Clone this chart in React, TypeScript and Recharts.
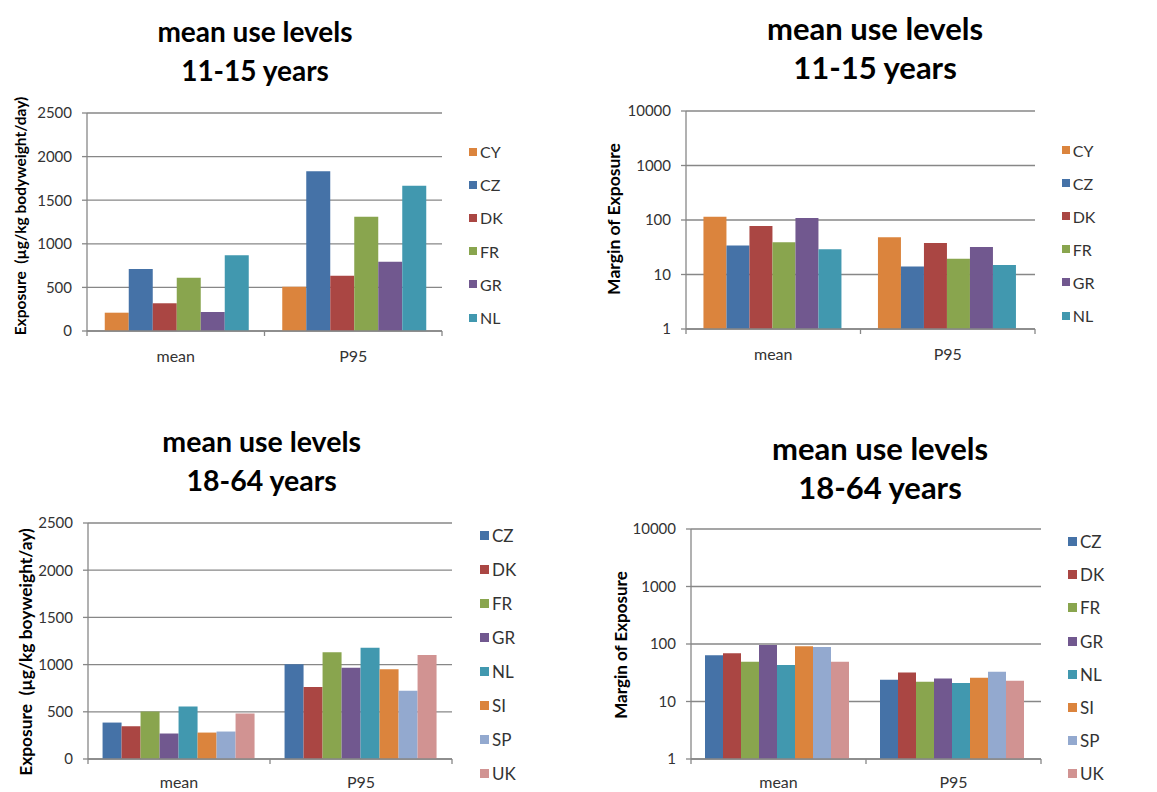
import { BarChart, Bar, XAxis, YAxis, CartesianGrid, Legend } from "recharts";

const categories = ["mean", "P95"];

const teenCountries = ["CY", "CZ", "DK", "FR", "GR", "NL"];
const adultCountries = ["CZ", "DK", "FR", "GR", "NL", "SI", "SP", "UK"];

// exposure, µg/kg bodyweight/day
const teenExposureMean = [210, 711, 318, 611, 218, 868];
const teenExposureP95 = [508, 1831, 634, 1311, 795, 1666];
const adultExposureMean = [386, 347, 503, 270, 557, 280, 291, 482];
const adultExposureP95 = [1005, 762, 1130, 967, 1179, 950, 722, 1102];

// margin of exposure
const teenMoeMean = [115, 34, 78, 39, 109, 29];
const teenMoeP95 = [48, 14, 38, 19.4, 32, 15];
const adultMoeMean = [64, 69, 49, 96, 43, 91, 89, 49];
const adultMoeP95 = [24, 32, 22, 25, 21, 26, 33, 23];

const exposureTicks = [0, 500, 1000, 1500, 2000, 2500];
const moeTicks = [1, 10, 100, 1000, 10000];

const countryColors: Record<string, string> = {
  CY: "#DB843D",
  CZ: "#4572A7",
  DK: "#AA4643",
  FR: "#89A54E",
  GR: "#71588F",
  NL: "#4198AF",
  SI: "#DB843D",
  SP: "#93A9CF",
  UK: "#D19392",
};

const GRID = "#878787";
const TEXT = "#333333";
const FONT = "Lato, 'Open Sans', sans-serif";
const Y_AXIS_WIDTH = 60;
const X_AXIS_HEIGHT = 30;

function buildRows(countries: string[], mean: number[], p95: number[]) {
  return categories.map((category, i) => {
    const values = i === 0 ? mean : p95;
    const row: Record<string, string | number> = { category };
    countries.forEach((c, j) => {
      row[c] = values[j];
    });
    return row;
  });
}

type Margin = { top: number; right: number; bottom: number; left: number };

type PanelProps = {
  left: number;
  top: number;
  width: number;
  height: number;
  margin: Margin;
  rows: Record<string, string | number>[];
  countries: string[];
  log?: boolean;
  gap: string;
  labelGap: number;
  legend: { left: number; top: number; step: number; size: number; font: number };
  title: string[];
  titleX: number;
  titleY: number;
  titleSize: number;
  yLabel: string;
  yLabelX: number;
  yLabelY: number;
  yLabelSize: number;
};

function Panel(p: PanelProps) {
  const plotWidth = p.width - p.margin.left - p.margin.right - Y_AXIS_WIDTH;
  const half = plotWidth / categories.length / 2;

  // category label plus boundary tick marks under the axis
  const renderTick = (props: any) => {
    const { x, y, payload, index } = props;
    return (
      <g>
        <line x1={x - half} x2={x - half} y1={y} y2={y + 5} stroke={GRID} strokeWidth={1.3} />
        {index === categories.length - 1 && (
          <line x1={x + half} x2={x + half} y1={y} y2={y + 5} stroke={GRID} strokeWidth={1.3} />
        )}
        <text
          x={x}
          y={y + p.labelGap}
          textAnchor="middle"
          dominantBaseline="central"
          fill={TEXT}
          fontSize={16}
        >
          {payload.value}
        </text>
      </g>
    );
  };

  const renderLegend = (props: any) => (
    <div>
      {props.payload.map((item: any) => (
        <div
          key={item.value}
          style={{ display: "flex", alignItems: "center", height: p.legend.step }}
        >
          <span
            style={{
              width: p.legend.size,
              height: p.legend.size,
              background: item.color,
              marginRight: 3,
            }}
          />
          <span style={{ fontSize: p.legend.font, color: TEXT }}>{item.value}</span>
        </div>
      ))}
    </div>
  );

  const yAxisCommon = {
    width: Y_AXIS_WIDTH,
    axisLine: { stroke: GRID, strokeWidth: 1.3 },
    tickLine: { stroke: GRID, strokeWidth: 1.3 },
    tickSize: 5,
    tickMargin: 10,
    tick: { fill: TEXT, fontSize: 15 },
    interval: 0 as const,
  };

  return (
    <>
      <div
        style={{
          position: "absolute",
          left: p.left,
          top: p.top,
          width: p.width,
          height: p.height,
        }}
      >
        <BarChart
          width={p.width}
          height={p.height}
          data={p.rows}
          margin={p.margin}
          barGap={0}
          barCategoryGap={p.gap}
        >
          <CartesianGrid vertical={false} stroke={GRID} strokeWidth={1.3} />
          <XAxis
            dataKey="category"
            height={X_AXIS_HEIGHT}
            axisLine={{ stroke: GRID, strokeWidth: 1.3 }}
            tickLine={false}
            tickSize={0}
            tickMargin={0}
            tick={renderTick}
            interval={0}
          />
          {p.log ? (
            <YAxis scale="log" domain={[1, 10000]} ticks={moeTicks} allowDataOverflow {...yAxisCommon} />
          ) : (
            <YAxis domain={[0, 2500]} ticks={exposureTicks} {...yAxisCommon} />
          )}
          <Legend
            layout="vertical"
            align="center"
            verticalAlign="middle"
            wrapperStyle={{ left: p.legend.left, top: p.legend.top, width: "auto", height: "auto" }}
            content={renderLegend}
          />
          {p.countries.map((c) => (
            <Bar key={c} dataKey={c} fill={countryColors[c]} isAnimationActive={false} />
          ))}
        </BarChart>
      </div>
      <div
        style={{
          position: "absolute",
          left: p.titleX - 200,
          top: p.titleY,
          width: 400,
          textAlign: "center",
          fontWeight: 700,
          fontSize: p.titleSize,
          lineHeight: "39px",
          color: "#000",
        }}
      >
        {p.title.map((line) => (
          <div key={line}>{line}</div>
        ))}
      </div>
      <div
        style={{
          position: "absolute",
          left: p.yLabelX,
          top: p.yLabelY,
          transform: "translate(-50%, -50%) rotate(-90deg)",
          whiteSpace: "pre",
          fontWeight: 700,
          fontSize: p.yLabelSize,
          color: "#000",
        }}
      >
        {p.yLabel}
      </div>
    </>
  );
}

export default function App() {
  return (
    <div
      style={{
        position: "relative",
        width: 1157,
        height: 792,
        background: "#fff",
        fontFamily: FONT,
        overflow: "hidden",
      }}
    >
      <style>{"body{margin:0}"}</style>
      <Panel
        left={0}
        top={0}
        width={580}
        height={400}
        margin={{ top: 113, right: 138, bottom: 39, left: 27 }}
        rows={buildRows(teenCountries, teenExposureMean, teenExposureP95)}
        countries={teenCountries}
        gap="10%"
        labelGap={24}
        legend={{ left: 469, top: 135, step: 33.2, size: 8, font: 16 }}
        title={["mean use levels", "11-15 years"]}
        titleX={255}
        titleY={11.5}
        titleSize={28}
        yLabel="Exposure  (µg/kg bodyweight/day)"
        yLabelX={20}
        yLabelY={216}
        yLabelSize={15.5}
      />
      <Panel
        left={580}
        top={0}
        width={577}
        height={400}
        margin={{ top: 111, right: 122, bottom: 41, left: 46 }}
        rows={buildRows(teenCountries, teenMoeMean, teenMoeP95)}
        countries={teenCountries}
        log
        gap="10%"
        labelGap={24}
        legend={{ left: 481.7, top: 133.5, step: 33.1, size: 8, font: 16 }}
        title={["mean use levels", "11-15 years"]}
        titleX={875}
        titleY={8.5}
        titleSize={31}
        yLabel="Margin of Exposure"
        yLabelX={613}
        yLabelY={219}
        yLabelSize={17.5}
      />
      <Panel
        left={0}
        top={400}
        width={580}
        height={392}
        margin={{ top: 123, right: 128, bottom: 3, left: 28 }}
        rows={buildRows(adultCountries, adultExposureMean, adultExposureP95)}
        countries={adultCountries}
        gap="8%"
        labelGap={22.5}
        legend={{ left: 480, top: 118, step: 34, size: 9, font: 17 }}
        title={["mean use levels", "18-64 years"]}
        titleX={261.7}
        titleY={421.5}
        titleSize={28.5}
        yLabel="Exposure  (µg/kg boyweight/ay)"
        yLabelX={25}
        yLabelY={652}
        yLabelSize={17.4}
      />
      <Panel
        left={580}
        top={400}
        width={577}
        height={392}
        margin={{ top: 129, right: 116, bottom: 3, left: 51 }}
        rows={buildRows(adultCountries, adultMoeMean, adultMoeP95)}
        countries={adultCountries}
        log
        gap="8%"
        labelGap={22.5}
        legend={{ left: 488, top: 125, step: 33.2, size: 9, font: 17 }}
        title={["mean use levels", "18-64 years"]}
        titleX={880}
        titleY={428.5}
        titleSize={31}
        yLabel="Margin of Exposure"
        yLabelX={620}
        yLabelY={645}
        yLabelSize={17}
      />
    </div>
  );
}
